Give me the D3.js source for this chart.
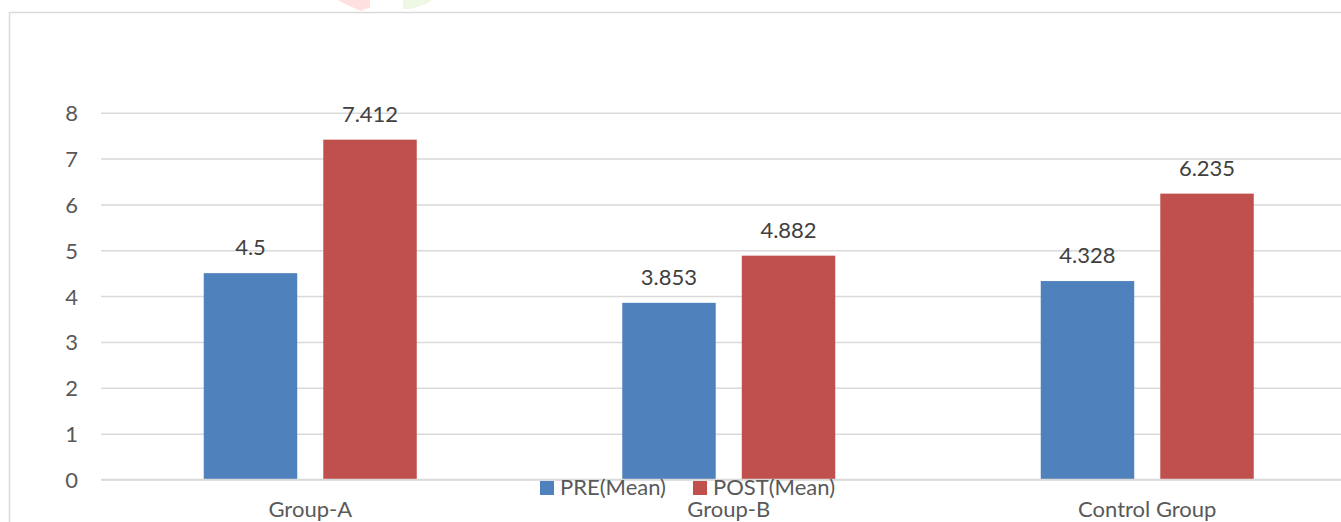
<!DOCTYPE html>
<html>
<head>
<meta charset="utf-8">
<script src="https://cdn.jsdelivr.net/npm/d3@7"></script>
<style>
  html, body { margin: 0; padding: 0; background: #fff; }
  svg { display: block; }
  text { font-family: Lato, "Open Sans", sans-serif; }
</style>
</head>
<body>
<script>
// Chart data
const categories = ["Group-A", "Group-B", "Control Group"];
const seriesNames = ["PRE(Mean)", "POST(Mean)"];
const preValues = [4.5, 3.853, 4.328];
const postValues = [7.412, 4.882, 6.235];
const preLabels = ["4.5", "3.853", "4.328"];
const postLabels = ["7.412", "4.882", "6.235"];
const yTicks = [0, 1, 2, 3, 4, 5, 6, 7, 8];
const colors = ["#4f81bd", "#c0504d"];

const W = 1341, H = 522;
const FS = 22;
const svg = d3.select("body").append("svg").attr("width", W).attr("height", H);

// faint decorative marks along the top edge
svg.append("polygon")
  .attr("points", "338,0 370,0 370,8 365,9 362,11 356,9 350,6 343,3")
  .attr("fill", "#ffe0e0");
svg.append("polygon")
  .attr("points", "403,0 432,0 428,3 420,6 410,9 403,9")
  .attr("fill", "#eef8e4");

// chart area border
svg.append("rect")
  .attr("x", 9.5).attr("y", 12.5)
  .attr("width", W + 20).attr("height", H + 20)
  .attr("fill", "none").attr("stroke", "#d9d9d9").attr("stroke-width", 1.5);

const plotLeft = 101, plotRight = 1356.5;
const y = d3.scaleLinear().domain([0, 8]).range([479.5, 112.7]);
const x0 = d3.scaleBand().domain(categories).range([plotLeft, plotRight]).padding(0);
const groupHalf = 106.5;
const x1 = d3.scaleBand().domain(seriesNames)
  .range([x0.bandwidth() / 2 - groupHalf, x0.bandwidth() / 2 + groupHalf])
  .paddingInner(0.218).paddingOuter(0);

// gridlines and tick labels
const yAxis = d3.axisLeft(y).tickValues(yTicks).tickSize(-(plotRight - plotLeft)).tickPadding(23);
const gy = svg.append("g").attr("transform", `translate(${plotLeft},0)`).call(yAxis);
gy.select(".domain").remove();
gy.selectAll(".tick line").attr("stroke", "#d9d9d9").attr("stroke-width", 1.5);
gy.selectAll(".tick text")
  .attr("fill", "#595959").attr("font-size", FS).attr("font-family", "Lato, sans-serif")
  .attr("dy", "0.36em");

// bars
const rows = categories.map((c, i) => ({ cat: c, vals: [preValues[i], postValues[i]], labels: [preLabels[i], postLabels[i]] }));
const groups = svg.append("g").selectAll("g").data(rows).join("g")
  .attr("transform", d => `translate(${x0(d.cat)},0)`);

groups.selectAll("rect")
  .data(d => d.vals.map((v, j) => ({ s: seriesNames[j], v, j })))
  .join("rect")
  .attr("x", d => x1(d.s))
  .attr("y", d => y(d.v))
  .attr("width", x1.bandwidth())
  .attr("height", d => y(0) - y(d.v))
  .attr("fill", d => colors[d.j]);

// value labels
groups.selectAll("text.val")
  .data(d => d.vals.map((v, j) => ({ s: seriesNames[j], v, j, label: d.labels[j] })))
  .join("text")
  .attr("class", "val")
  .attr("x", d => x1(d.s) + x1.bandwidth() / 2)
  .attr("y", d => y(d.v) - 18)
  .attr("text-anchor", "middle")
  .attr("font-size", FS)
  .attr("fill", "#404040")
  .text(d => d.label);

// baseline
svg.append("line")
  .attr("x1", plotLeft).attr("x2", plotRight)
  .attr("y1", y(0)).attr("y2", y(0))
  .attr("stroke", "#d9d9d9").attr("stroke-width", 1.5);

// category labels
svg.append("g").selectAll("text").data(categories).join("text")
  .attr("x", d => x0(d) + x0.bandwidth() / 2)
  .attr("y", 517)
  .attr("text-anchor", "middle")
  .attr("font-size", FS)
  .attr("fill", "#595959")
  .text(d => d);

// legend
const legendX = [540, 693];
const legend = svg.append("g").selectAll("g").data(seriesNames).join("g")
  .attr("transform", (d, i) => `translate(${legendX[i]},481)`);
legend.append("rect").attr("width", 14).attr("height", 14).attr("fill", (d, i) => colors[i]);
legend.append("text")
  .attr("x", 20).attr("y", 14)
  .attr("font-size", FS)
  .attr("fill", "#595959")
  .text(d => d);
</script>
</body>
</html>
